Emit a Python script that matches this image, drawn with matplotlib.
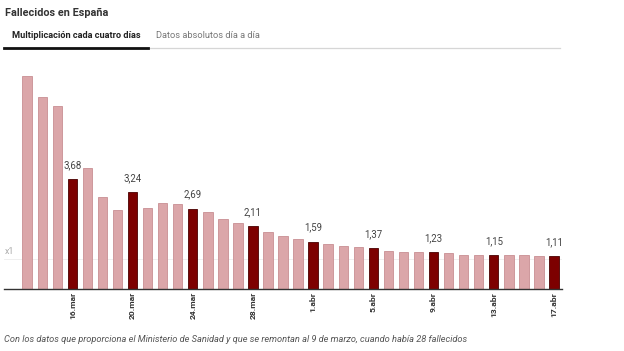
import matplotlib
matplotlib.use("Agg")
import matplotlib.pyplot as plt
from matplotlib.lines import Line2D

# ---- data ----
dates = ["13 mar", "14 mar", "15 mar", "16 mar", "17 mar", "18 mar", "19 mar", "20 mar",
         "21 mar", "22 mar", "23 mar", "24 mar", "25 mar", "26 mar", "27 mar", "28 mar",
         "29 mar", "30 mar", "31 mar", "1 abr", "2 abr", "3 abr", "4 abr", "5 abr",
         "6 abr", "7 abr", "8 abr", "9 abr", "10 abr", "11 abr", "12 abr", "13 abr",
         "14 abr", "15 abr", "16 abr", "17 abr"]
values = [7.11, 6.42, 6.11, 3.68, 4.04, 3.08, 2.64, 3.24,
          2.70, 2.87, 2.83, 2.69, 2.59, 2.35, 2.20, 2.11,
          1.90, 1.78, 1.67, 1.59, 1.51, 1.45, 1.40, 1.37,
          1.29, 1.23, 1.23, 1.23, 1.20, 1.14, 1.15, 1.15,
          1.13, 1.13, 1.11, 1.11]
highlight_labels = ["16.mar", "20.mar", "24.mar", "28.mar", "1.abr", "5.abr", "9.abr", "13.abr", "17.abr"]
highlight_values = ["3,68", "3,24", "2,69", "2,11", "1,59", "1,37", "1,23", "1,15", "1,11"]
title = "Fallecidos en España"
tab_active = "Multiplicación cada cuatro días"
tab_other = "Datos absolutos día a día"
footnote = ("Con los datos que proporciona el Ministerio de Sanidad y que se remontan "
            "al 9 de marzo, cuando había 28 fallecidos")

plt.rcParams['font.family'] = ['Roboto', 'DejaVu Sans']

W, H = 624, 351
fig = plt.figure(figsize=(W / 100, H / 100), dpi=100)
fig.patch.set_facecolor("white")

# axes placement in pixels
left_px, right_px = 4, 562
base_px, top_px = 289.3, 60
ax = fig.add_axes([left_px / W, (H - base_px) / H,
                   (right_px - left_px) / W, (base_px - top_px) / H])
x0, dx = 27.2, 15.05
ax.set_xlim((left_px - x0) / dx, (right_px - x0) / dx)
ax.set_ylim(0, (base_px - top_px) / 30.0)

light_fc, light_ec = "#dba6a9", "#c98f93"
dark_fc, dark_ec = "#7d0000", "#4a0000"

idx = list(range(len(values)))
dark_idx = [i for i in idx if (i - 3) % 4 == 0]
colors = [dark_fc if i in dark_idx else light_fc for i in idx]
edges = [dark_ec if i in dark_idx else light_ec for i in idx]
ax.bar(idx, values, width=0.63, color=colors, edgecolor=edges, linewidth=0.6, zorder=2)

# x1 reference
ax.axhline(1, color="#ececec", linewidth=0.6, zorder=1)
ax.text(-1.5, 1.12, "x1", fontsize=6.4, color="#a8a8a8", ha="left", va="bottom")

# value labels over highlighted bars
for k, i in enumerate(dark_idx):
    ax.text(i, values[i] + 0.3, highlight_values[k], ha="center", va="bottom",
            fontsize=6.9, color="#444444")

ax.set_xticks(dark_idx)
ax.set_xticklabels(highlight_labels, rotation=90, fontsize=6.1, fontweight="bold",
                   color="#333333", va="top", ha="center")
ax.tick_params(axis="x", length=0, pad=2)
ax.set_yticks([])
for s in ["top", "right", "left"]:
    ax.spines[s].set_visible(False)
ax.spines["bottom"].set_color("#333333")
ax.spines["bottom"].set_linewidth(1.0)

# header
fig.text(5 / W, 1 - 13 / H, title, fontsize=7.8, fontweight="bold", color="#333333",
         ha="left", va="center")
fig.text(12 / W, 1 - 36 / H, tab_active, fontsize=6.6, fontweight="bold", color="#222222",
         ha="left", va="center")
fig.text(156 / W, 1 - 36 / H, tab_other, fontsize=6.7, color="#777777",
         ha="left", va="center")
fig.add_artist(Line2D([148 / W, 560 / W], [1 - 48 / H, 1 - 48 / H],
                      color="#d6d6d6", linewidth=0.9, transform=fig.transFigure))
fig.add_artist(Line2D([4 / W, 148 / W], [1 - 48 / H, 1 - 48 / H],
                      color="#111111", linewidth=2.0, transform=fig.transFigure))

# footnote
fig.text(4 / W, 1 - 339 / H, footnote, fontsize=6.7, fontstyle="italic", color="#555555",
         ha="left", va="center")

fig.savefig("out.png", dpi=100, facecolor="white")
